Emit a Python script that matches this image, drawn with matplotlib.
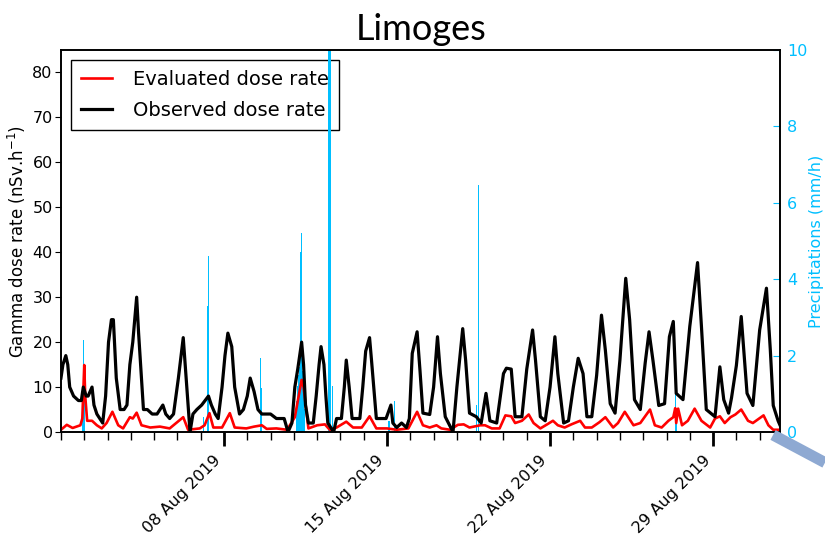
import numpy as np
import matplotlib
matplotlib.use('Agg')
import matplotlib.pyplot as plt
import matplotlib.dates as mdates
from matplotlib.lines import Line2D

start = np.datetime64('2019-08-01T00:00')

# observed dose rate (nSv/h), hours since 1 Aug 2019 00:00
obs_hours = [0, 2, 5, 7, 9, 13, 18, 21, 23, 26, 28, 32, 34, 37, 40, 43, 46, 49, 52, 54,
             57, 61, 65, 68, 71, 74, 78, 80, 85, 89, 94, 99, 105, 108, 112, 116, 121, 126, 129, 133,
             136, 140, 145, 152, 155, 159, 162, 166, 169, 172, 176, 179, 184, 188, 192, 195, 199, 203, 207, 211,
             216, 222, 226, 230, 234, 238, 241, 244, 248, 250, 252, 255, 260, 263, 266, 268, 271, 273, 275, 281,
             284, 289, 292, 294, 297, 300, 304, 308, 311, 314, 318, 320, 325, 330, 335, 340, 342, 346, 351, 356,
             359, 362, 367, 370, 373, 380, 384, 388, 391, 396, 404, 408, 414, 417, 421, 428, 433, 438, 442, 449,
             456, 459, 464, 468, 475, 480, 486, 489, 494, 499, 504, 509, 512, 518, 523, 528, 533, 538, 542, 547,
             552, 557, 561, 566, 571, 576, 582, 586, 591, 597, 602, 606, 610, 616, 622, 627, 631, 634, 641, 648,
             656, 660, 665, 674, 679, 683, 688, 691, 696, 701, 707, 713, 720, 727, 731, 734, 739, 741]
obs_rate = [12, 15, 17, 15, 10, 8, 7, 7, 10, 8, 8, 10, 6, 4, 3, 2, 8, 20, 25, 25,
            12, 5, 5, 6, 15, 20, 30, 22, 5, 5, 4, 4, 6, 4, 3, 4, 12, 21, 12, 0,
            4, 5, 6, 8, 6, 4, 3, 10, 17, 22, 19, 10, 4, 5, 8, 12, 9, 5, 4, 4,
            4, 3, 3, 3, 0, 2, 10, 14, 20, 15, 6, 2, 2, 8, 15, 19, 15, 8, 2, 0,
            3, 3, 10, 16, 10, 3, 3, 3, 10, 18, 21, 16, 3, 3, 3, 6, 2, 1, 2, 1,
            3, 17.5, 22.3, 13.6, 4.2, 3.9, 10, 21.2, 13, 3.4, 0, 10, 23, 16, 4.2, 3.4, 2, 8.6, 2.5, 2,
            13, 14.2, 14, 3.4, 3.4, 14, 22.7, 16, 3.4, 2.5, 10, 21.2, 13, 2, 2.5, 10, 16.4, 13, 3.4, 3.4,
            12.6, 26, 18.2, 6.3, 4.2, 16, 34.2, 25, 7.2, 5, 15.3, 22.3, 16, 5.9, 6.3, 21.2, 24.6, 8.6, 7.2, 23.5,
            37.7, 23.5, 5, 3.4, 14.5, 7.2, 4.2, 7.6, 14.8, 25.7, 8.6, 5.9, 22.7, 32, 18.2, 5.9, 2.5, 1.5]

# evaluated dose rate (nSv/h)
eval_hours = [0, 6, 12, 20, 22, 24, 25, 27, 32, 37, 42, 47, 53, 59, 64, 71, 74, 78, 83, 92,
              102, 112, 126, 131, 143, 148, 153, 157, 166, 174, 179, 191, 199, 207, 212, 222, 233, 241, 248, 250,
              255, 264, 272, 277, 284, 294, 301, 310, 318, 325, 336, 346, 358, 367, 373, 380, 387, 392, 401, 409,
              415, 421, 432, 437, 444, 452, 458, 464, 468, 475, 482, 487, 494, 501, 507, 512, 519, 526, 535, 540,
              547, 555, 561, 569, 574, 581, 590, 597, 607, 612, 619, 626, 631, 633, 634, 636, 640, 646, 653, 660,
              669, 674, 679, 684, 690, 695, 701, 708, 713, 724, 729, 734, 739, 741]
eval_rate = [0.5, 1.6, 0.9, 1.5, 3, 14.9, 8, 2.5, 2.5, 1.5, 0.8, 2, 4.5, 1.5, 0.8, 3.3, 3, 4.3, 1.5, 1,
             1.2, 0.8, 3.3, 0.5, 0.8, 1.5, 4.2, 1, 1, 4.2, 1, 0.8, 1.2, 1.5, 0.7, 0.8, 0.5, 3.3, 11.6, 10,
             0.8, 1.5, 1.7, 0.5, 1, 2.3, 1, 1, 3.5, 0.8, 0.8, 0.5, 0.8, 4.5, 1.5, 1, 1.5, 0.8, 0.5, 1.6,
             1.7, 1, 1.5, 1.5, 0.8, 0.8, 3.7, 3.5, 2, 2.5, 3.9, 2, 0.8, 1.7, 2.5, 1.5, 1, 1.7, 2.5, 1,
             1, 2.2, 3.3, 1, 2, 4.5, 1.5, 2, 5, 1.5, 1, 2.5, 3.3, 5.3, 2, 5.2, 1.5, 2.5, 5.2, 2.5,
             1, 3, 3.5, 2, 3.3, 3.9, 5, 2.5, 2, 3.7, 1.5, 0.5, 0.5, 0.5]

# precipitations (mm/h)
rain_hours = [22, 23, 24, 147, 151, 152, 206, 207, 243, 244, 245, 246, 247, 248, 249, 250, 251,
              276, 277, 278, 280, 338, 344, 428, 430, 633, 634]
rain = [0.5, 2.4, 1.0, 0.4, 3.3, 4.6, 1.93, 1.15, 0.8, 1.2, 1.5, 1.7, 4.7, 5.2, 1.6, 1.2, 0.6,
        12, 12, 12, 1.2, 0.3, 0.8, 0.7, 6.47, 1.2, 0.5]


def to_time(hours):
    return start + np.array(hours, dtype='timedelta64[h]')


fig = plt.figure(figsize=(8.25, 5.43), dpi=100)
ax = fig.add_axes([0.0739, 0.2044, 0.8716, 0.7035])
ax2 = ax.twinx()

rain_col = '#00BFFF'
ax2.bar(to_time(rain_hours), rain, width=np.timedelta64(70, 'm'), color=rain_col, linewidth=0)
ax2.set_ylim(0, 10)
ax2.set_yticks([0, 2, 4, 6, 8, 10])
ax2.tick_params(axis='y', colors=rain_col, direction='in', length=5, labelsize=11.5, pad=5)
ax2.set_ylabel('Precipitations (mm/h)', color=rain_col, fontsize=11.5, labelpad=1)
ax2.spines['right'].set_color('black')

# lines above the bars, bars above the legend
ax.set_zorder(ax2.get_zorder() + 1)
ax.patch.set_visible(False)
ax2.patch.set_visible(True)

l1, = ax.plot(to_time(eval_hours), eval_rate, color='red', lw=1.9)
l2, = ax.plot(to_time(obs_hours), obs_rate, color='black', lw=2.3)

leg = ax2.legend([l1, l2], ['Evaluated dose rate', 'Observed dose rate'], loc='upper left',
                 fontsize=14, fancybox=False, framealpha=1, edgecolor='black',
                 bbox_to_anchor=(0, 1), borderaxespad=0.52, handlelength=1.6,
                 handletextpad=1.1, labelspacing=0.62, borderpad=0.5)
leg.get_frame().set_linewidth(1.0)
leg.set_zorder(0)

ax.set_ylim(0, 85)
ax.set_yticks(range(0, 81, 10))
ax.set_xlim(start, start + np.timedelta64(741, 'h'))
ax.xaxis.set_major_locator(mdates.DayLocator(bymonthday=[8, 15, 22, 29]))
ax.xaxis.set_minor_locator(mdates.DayLocator())
ax.xaxis.set_major_formatter(mdates.DateFormatter('%d %b %Y'))
ax.tick_params(axis='x', which='major', direction='out', length=10, width=2, labelsize=11.5, pad=5)
ax.tick_params(axis='x', which='minor', direction='out', length=6, width=1)
ax.tick_params(axis='y', direction='out', length=4, labelsize=11.5, pad=2)
ax.tick_params(top=False, right=False)
for lab in ax.get_xticklabels():
    lab.set_rotation(45)
    lab.set_ha('right')
ax.set_ylabel('Gamma dose rate (nSv.h$^{-1}$)', fontsize=12, labelpad=3)
for s in ax.spines.values():
    s.set_linewidth(1.2)
for s in ax2.spines.values():
    s.set_linewidth(1.2)

fig.text(0.51, 0.926, 'Limoges', family='Lato', fontsize=26, ha='center', va='baseline')

# slide connector stroke in the lower right corner
fig.add_artist(Line2D([0.937, 1.0], [0.199, 0.148], transform=fig.transFigure,
                      color='#8EA9D2', lw=8, solid_capstyle='butt'))

fig.savefig('out.png', dpi=100)
